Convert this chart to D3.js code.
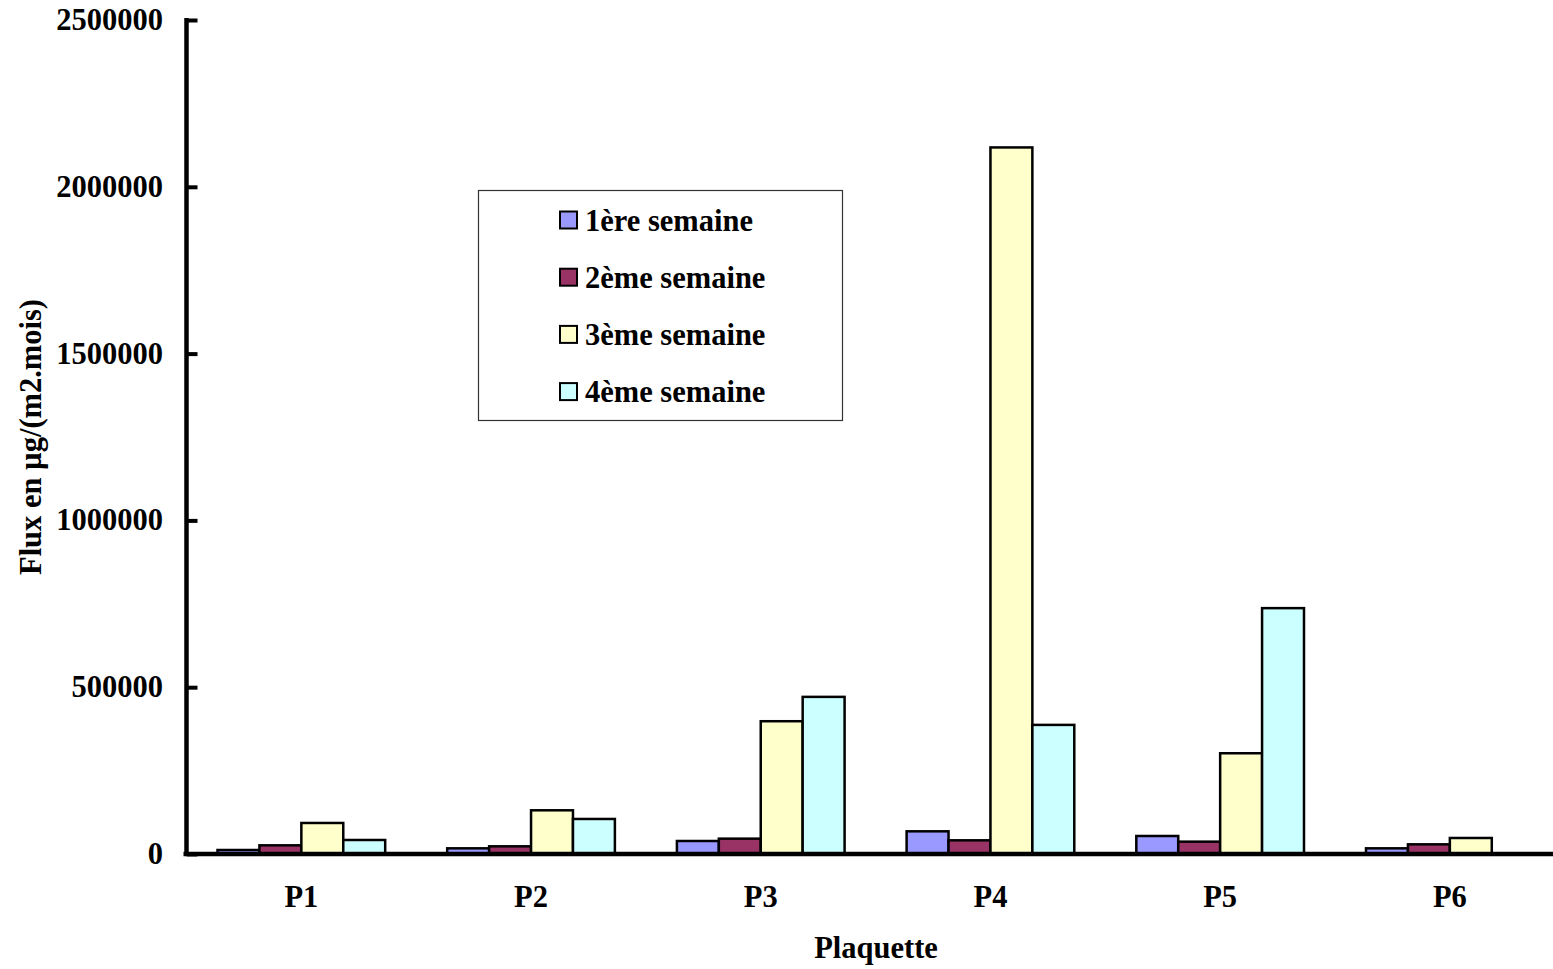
<!DOCTYPE html>
<html>
<head>
<meta charset="utf-8">
<script src="https://cdn.jsdelivr.net/npm/d3@7"></script>
<style>
  html, body { margin: 0; padding: 0; background: #fff; }
  svg { display: block; }
  text { font-family: "Liberation Serif", "Times New Roman", serif; font-weight: bold; fill: #000; }
</style>
</head>
<body>
<svg id="chart" width="1553" height="969"></svg>
<script>
// Plates and weekly deposition flux series
const categories = ["P1", "P2", "P3", "P4", "P5", "P6"];
const seriesNames = ["1ère semaine", "2ème semaine", "3ème semaine", "4ème semaine"];
const week1 = [12000, 17000, 39000, 68000, 54000, 17000];
const week2 = [26000, 23000, 46000, 41000, 37000, 29000];
const week3 = [93000, 131000, 398000, 2118000, 302000, 48000];
const week4 = [42000, 105000, 471000, 387000, 737000, 0];
const yTicks = [0, 500000, 1000000, 1500000, 2000000, 2500000];
const colors = ["#9999FF", "#993366", "#FFFFCC", "#CCFFFF"];

const series = [week1, week2, week3, week4];
const fontSize = 30.5;

const svg = d3.select("#chart");
const plotLeft = 186.5, plotRight = 1564.7, plotTop = 20, plotBottom = 854;

const x0 = d3.scaleBand().domain(categories).range([plotLeft, plotRight])
  .paddingInner(0.27).paddingOuter(0.135);
const x1 = d3.scaleBand().domain(d3.range(series.length)).range([0, x0.bandwidth()]);
const y = d3.scaleLinear().domain([0, 2500000]).range([plotBottom, plotTop]);

// Bars
const groups = svg.append("g").selectAll("g")
  .data(categories)
  .join("g")
  .attr("transform", d => `translate(${x0(d)},0)`);

groups.selectAll("rect")
  .data((d, i) => series.map((s, k) => ({ k, v: s[i] })).filter(e => e.v > 0))
  .join("rect")
  .attr("x", d => x1(d.k))
  .attr("width", x1.bandwidth())
  .attr("y", d => y(d.v))
  .attr("height", d => y(0) - y(d.v))
  .attr("fill", d => colors[d.k])
  .attr("stroke", "#000")
  .attr("stroke-width", 2.5);

// Y axis with inward ticks
const yAxis = d3.axisRight(y).tickValues(yTicks).tickSize(11).tickFormat("");
const ya = svg.append("g").attr("transform", `translate(${plotLeft},0)`).call(yAxis);
ya.select(".domain").remove();
ya.selectAll(".tick line").attr("stroke", "#000").attr("stroke-width", 4);
svg.append("line")
  .attr("x1", plotLeft).attr("x2", plotLeft)
  .attr("y1", plotTop - 2).attr("y2", plotBottom + 2)
  .attr("stroke", "#000").attr("stroke-width", 4.5);

svg.append("g").selectAll("text")
  .data(yTicks)
  .join("text")
  .attr("x", 163)
  .attr("y", d => y(d))
  .attr("dy", "0.33em")
  .attr("text-anchor", "end")
  .attr("font-size", fontSize)
  .text(d => d3.format("d")(d));

// X axis line
svg.append("line")
  .attr("x1", plotLeft - 3).attr("x2", 1553)
  .attr("y1", plotBottom).attr("y2", plotBottom)
  .attr("stroke", "#000").attr("stroke-width", 4.5);

svg.append("g").selectAll("text")
  .data(categories)
  .join("text")
  .attr("x", d => x0(d) + x0.bandwidth() / 2)
  .attr("y", 897)
  .attr("dy", "0.33em")
  .attr("text-anchor", "middle")
  .attr("font-size", fontSize)
  .text(d => d);

// Axis titles
svg.append("text")
  .attr("x", 876).attr("y", 948).attr("dy", "0.33em")
  .attr("text-anchor", "middle").attr("font-size", fontSize)
  .text("Plaquette");

svg.append("text")
  .attr("transform", "translate(30,437) rotate(-90)")
  .attr("dy", "0.35em")
  .attr("text-anchor", "middle").attr("font-size", fontSize)
  .text("Flux en µg/(m2.mois)");

// Legend
const legend = svg.append("g");
legend.append("rect")
  .attr("x", 478.5).attr("y", 190.5).attr("width", 364).attr("height", 230)
  .attr("fill", "#fff").attr("stroke", "#333").attr("stroke-width", 1.2);

const rows = legend.selectAll("g.row")
  .data(seriesNames)
  .join("g")
  .attr("class", "row")
  .attr("transform", (d, i) => `translate(0,${220.5 + i * 57.2})`);

rows.append("rect")
  .attr("x", 560).attr("y", -9).attr("width", 17).attr("height", 17)
  .attr("fill", (d, i) => colors[i])
  .attr("stroke", "#000").attr("stroke-width", 2);

rows.append("text")
  .attr("x", 585).attr("y", 0).attr("dy", "0.33em")
  .attr("font-size", fontSize)
  .text(d => d);
</script>
</body>
</html>
